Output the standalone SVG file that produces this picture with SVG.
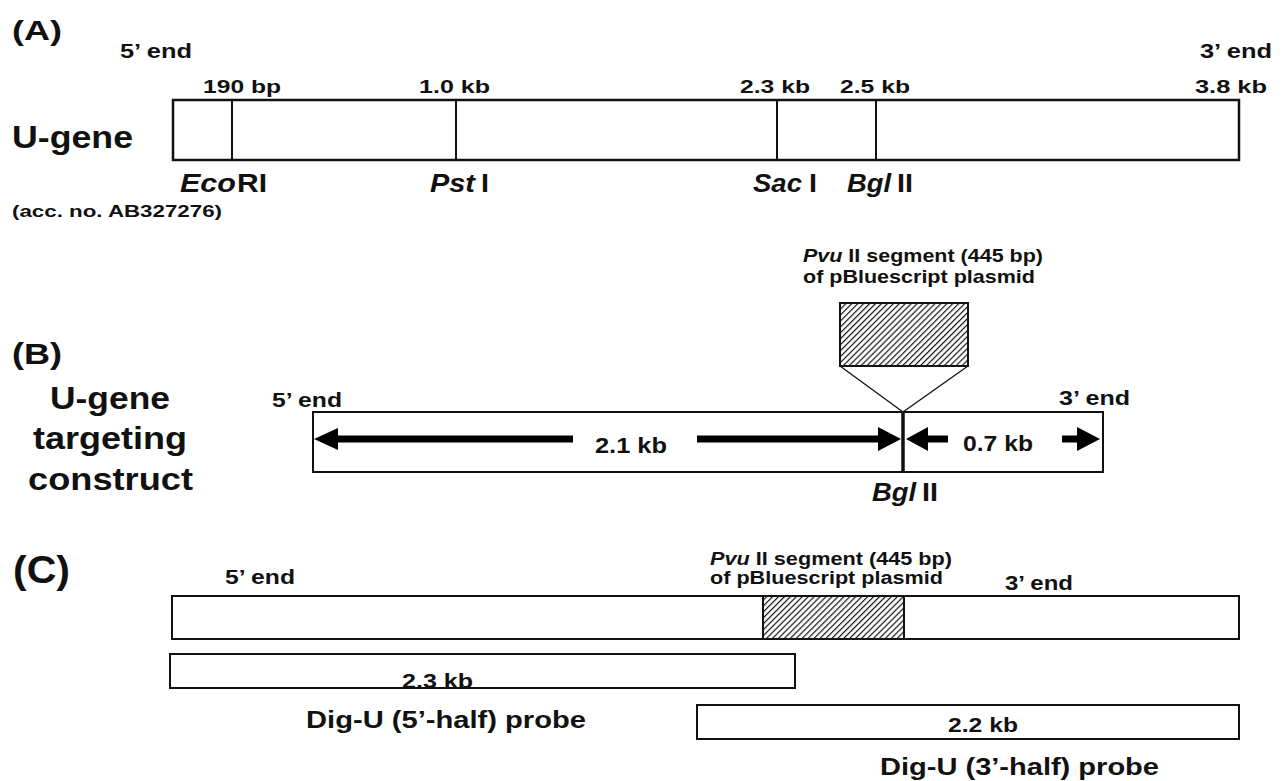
<svg xmlns="http://www.w3.org/2000/svg" width="1288" height="781" viewBox="0 0 1288 781">
  <defs>
    <pattern id="hatch" patternUnits="userSpaceOnUse" width="4.2" height="4.2" patternTransform="rotate(-45)">
      <rect x="0" y="0" width="4.2" height="4.2" fill="#fff"/>
      <rect x="0" y="1.6" width="4.2" height="1.2" fill="#111"/>
    </pattern>
    <style>
      text { font-family: "Liberation Sans", Arial, sans-serif; font-weight: bold; fill: #111; }
      .it { font-style: italic; }
      .box { fill: #fff; stroke: #111; stroke-width: 2; }
      .boxA { fill: #fff; stroke: #111; stroke-width: 2.5; }
      .div { stroke: #111; stroke-width: 2; }
      .hatch { fill: url(#hatch); stroke: #111; stroke-width: 2; }
      .conn { stroke: #111; stroke-width: 1.3; fill: none; }
      .arr { fill: #000; }
    </style>
  </defs>
  <rect width="1288" height="781" fill="#fff"/>

  <!-- Panel A -->
  <g id="panelA-labels">
    <text x="12" y="40" font-size="28" textLength="50" lengthAdjust="spacingAndGlyphs">(A)</text>
    <text x="120" y="58" font-size="20" textLength="72" lengthAdjust="spacingAndGlyphs">5’ end</text>
    <text x="1200" y="58" font-size="20" textLength="72" lengthAdjust="spacingAndGlyphs">3’ end</text>
    <text x="12" y="148" font-size="32" textLength="121" lengthAdjust="spacingAndGlyphs">U-gene</text>
    <text x="12" y="217" font-size="17" textLength="210" lengthAdjust="spacingAndGlyphs">(acc. no. AB327276)</text>
  </g>
  <g id="u-gene">
    <rect class="boxA" x="173" y="100" width="1066" height="60"/>
    <line class="div" x1="232" y1="100" x2="232" y2="160"/>
    <line class="div" x1="456" y1="100" x2="456" y2="160"/>
    <line class="div" x1="777" y1="100" x2="777" y2="160"/>
    <line class="div" x1="876" y1="100" x2="876" y2="160"/>
    <text x="203" y="93" font-size="19" textLength="78" lengthAdjust="spacingAndGlyphs">190 bp</text>
    <text x="419" y="93" font-size="19" textLength="71" lengthAdjust="spacingAndGlyphs">1.0 kb</text>
    <text x="740" y="93" font-size="19" textLength="70" lengthAdjust="spacingAndGlyphs">2.3 kb</text>
    <text x="840" y="93" font-size="19" textLength="70" lengthAdjust="spacingAndGlyphs">2.5 kb</text>
    <text x="1195" y="93" font-size="19" textLength="72" lengthAdjust="spacingAndGlyphs">3.8 kb</text>
    <text class="it" x="180" y="192" font-size="26" textLength="56" lengthAdjust="spacingAndGlyphs">Eco</text>
    <text x="237" y="192" font-size="26" textLength="30" lengthAdjust="spacingAndGlyphs">RI</text>
    <text class="it" x="430" y="192" font-size="26" textLength="45" lengthAdjust="spacingAndGlyphs">Pst</text>
    <text x="481" y="192" font-size="26" textLength="8" lengthAdjust="spacingAndGlyphs">I</text>
    <text class="it" x="753" y="192" font-size="26" textLength="49" lengthAdjust="spacingAndGlyphs">Sac</text>
    <text x="809" y="192" font-size="26" textLength="8" lengthAdjust="spacingAndGlyphs">I</text>
    <text class="it" x="847" y="192" font-size="26" textLength="44" lengthAdjust="spacingAndGlyphs">Bgl</text>
    <text x="897" y="192" font-size="26" textLength="16" lengthAdjust="spacingAndGlyphs">II</text>
  </g>

  <!-- Panel B -->
  <g id="panelB-labels">
    <text x="12" y="364" font-size="30" textLength="50" lengthAdjust="spacingAndGlyphs">(B)</text>
    <text x="50" y="409" font-size="31" textLength="120" lengthAdjust="spacingAndGlyphs">U-gene</text>
    <text x="33" y="449" font-size="31" textLength="154" lengthAdjust="spacingAndGlyphs">targeting</text>
    <text x="28" y="490" font-size="31" textLength="165" lengthAdjust="spacingAndGlyphs">construct</text>
  </g>
  <g id="insert-B">
    <text x="803" y="262" font-size="19" textLength="240" lengthAdjust="spacingAndGlyphs"><tspan class="it">Pvu</tspan> II segment (445 bp)</text>
    <text x="803" y="283" font-size="19" textLength="232" lengthAdjust="spacingAndGlyphs">of pBluescript plasmid</text>
    <rect class="hatch" x="840" y="303" width="128" height="63"/>
  </g>
  <g id="connectors">
    <line class="conn" x1="840" y1="366" x2="903" y2="412"/>
    <line class="conn" x1="968" y1="366" x2="903" y2="412"/>
  </g>
  <g id="construct">
    <rect class="box" x="313" y="412" width="790" height="60"/>
    <line x1="903" y1="412" x2="903" y2="472" stroke="#111" stroke-width="3.5"/>
    <text x="272" y="407" font-size="20" textLength="70" lengthAdjust="spacingAndGlyphs">5’ end</text>
    <text x="1059" y="405" font-size="20" textLength="71" lengthAdjust="spacingAndGlyphs">3’ end</text>
    <rect class="arr" x="336" y="435.5" width="237" height="7"/>
    <polygon class="arr" points="314,439 338,428 338,450"/>
    <rect class="arr" x="697" y="435.5" width="183" height="7"/>
    <polygon class="arr" points="901,439 878,427 878,451"/>
    <text x="595" y="453" font-size="22" textLength="72" lengthAdjust="spacingAndGlyphs">2.1 kb</text>
    <polygon class="arr" points="906,439 928,427 928,451"/>
    <rect class="arr" x="927" y="435.5" width="21" height="7"/>
    <text x="963" y="451" font-size="22" textLength="70" lengthAdjust="spacingAndGlyphs">0.7 kb</text>
    <rect class="arr" x="1062" y="435.5" width="17" height="7"/>
    <polygon class="arr" points="1100,439 1077,427 1077,451"/>
    <text class="it" x="872" y="501" font-size="26" textLength="44" lengthAdjust="spacingAndGlyphs">Bgl</text>
    <text x="922" y="501" font-size="26" textLength="16" lengthAdjust="spacingAndGlyphs">II</text>
  </g>

  <!-- Panel C -->
  <g id="panelC-labels">
    <text x="13" y="583" font-size="38" textLength="57" lengthAdjust="spacingAndGlyphs">(C)</text>
  </g>
  <g id="targeted-gene">
    <text x="225" y="584" font-size="20" textLength="70" lengthAdjust="spacingAndGlyphs">5’ end</text>
    <text x="710" y="565" font-size="18" textLength="242" lengthAdjust="spacingAndGlyphs"><tspan class="it">Pvu</tspan> II segment (445 bp)</text>
    <text x="710" y="584" font-size="18" textLength="233" lengthAdjust="spacingAndGlyphs">of pBluescript plasmid</text>
    <text x="1005" y="590" font-size="20" textLength="68" lengthAdjust="spacingAndGlyphs">3’ end</text>
    <rect class="box" x="172" y="596" width="1067" height="43"/>
    <rect class="hatch" x="763" y="596" width="141" height="43"/>
  </g>
  <g id="probe-5">
    <rect class="box" x="170" y="654" width="625" height="34"/>
    <text x="402" y="688" font-size="20" textLength="71" lengthAdjust="spacingAndGlyphs">2.3 kb</text>
    <text x="306" y="728" font-size="24" textLength="280" lengthAdjust="spacingAndGlyphs">Dig-U (5’-half) probe</text>
  </g>
  <g id="probe-3">
    <rect class="box" x="697" y="705" width="542" height="34"/>
    <text x="948" y="732" font-size="20" textLength="70" lengthAdjust="spacingAndGlyphs">2.2 kb</text>
    <text x="880" y="775" font-size="24" textLength="279" lengthAdjust="spacingAndGlyphs">Dig-U (3’-half) probe</text>
  </g>
</svg>
